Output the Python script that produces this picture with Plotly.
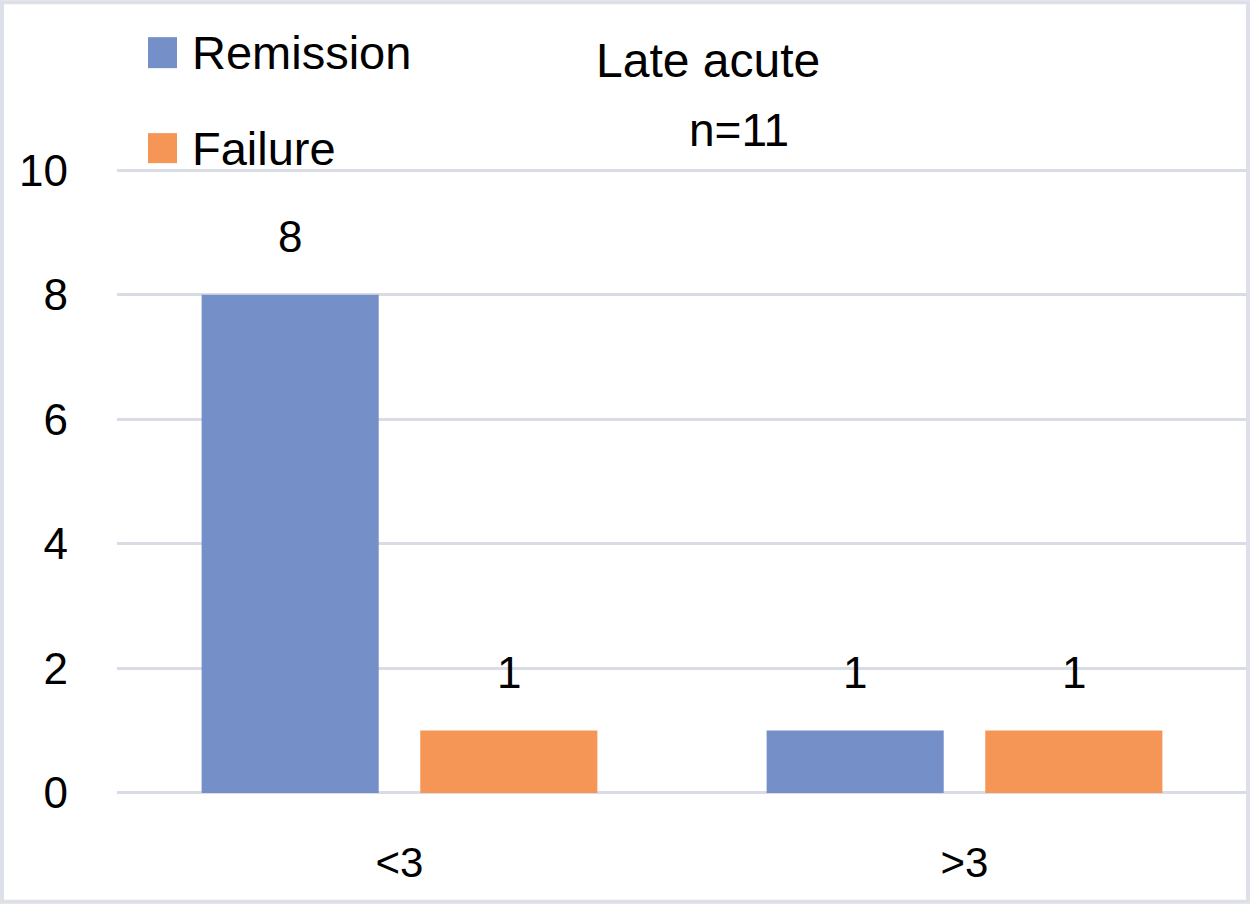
import plotly.graph_objects as go

# ---- data ----
categories = ["<3", ">3"]
series_names = ["Remission", "Failure"]
remission = [8, 1]
failure = [1, 1]
y_ticks = [0, 2, 4, 6, 8, 10]
title_text = "Late acute"
subtitle_text = "n=11"

colors = ["#7590c9", "#f59656"]
values = [remission, failure]

W, H = 1250, 904
Y_LO, Y_HI = -0.05, 10.05
PX_PER_UNIT = (793 - 170) / 10.0
L, R = 117, 1247
T = 170 - (Y_HI - 10) * PX_PER_UNIT
B = 793 - Y_LO * PX_PER_UNIT


def px_x(p):
    return (p - L) / (R - L)


def px_y(p):
    return (B - p) / (B - T)


FONT = "Liberation Sans, Arial, sans-serif"

fig = go.Figure()
for name, vals, col in zip(series_names, values, colors):
    fig.add_trace(go.Bar(
        x=categories, y=vals, name=name,
        marker=dict(color=col, line=dict(width=0)),
        showlegend=False,
    ))

bargap = 0.226
bargroupgap = 0.19
slot_px = (R - L) / len(categories) * (1 - bargap) / len(series_names)

# data labels above bars
for j, vals in enumerate(values):
    for i, v in enumerate(vals):
        fig.add_annotation(
            x=categories[i], y=v, xref="x", yref="y",
            text=str(v), showarrow=False,
            xshift=(j - (len(series_names) - 1) / 2) * slot_px,
            yshift=32, yanchor="bottom",
            font=dict(family=FONT, size=44, color="black"),
        )

# manual legend (large swatches)
legend_rows = [(37, 68), (133, 163)]
for (y0, y1), name, col in zip(legend_rows, series_names, colors):
    fig.add_shape(type="rect", xref="paper", yref="paper",
                  x0=px_x(148), x1=px_x(177), y0=px_y(y1), y1=px_y(y0),
                  fillcolor=col, line=dict(width=0))
    fig.add_annotation(x=px_x(190), y=px_y((y0 + y1) / 2), xref="paper", yref="paper",
                       text=name, showarrow=False, xanchor="left", yanchor="middle",
                       font=dict(family=FONT, size=47, color="black"))

# title lines
fig.add_annotation(x=px_x(708), y=px_y(60), xref="paper", yref="paper",
                   text=title_text, showarrow=False, xanchor="center", yanchor="middle",
                   font=dict(family=FONT, size=48, color="black"))
fig.add_annotation(x=px_x(739), y=px_y(130), xref="paper", yref="paper",
                   text=subtitle_text, showarrow=False, xanchor="center", yanchor="middle",
                   font=dict(family=FONT, size=46, color="black"))

# outer border
fig.add_shape(type="rect", xref="paper", yref="paper",
              x0=px_x(2), x1=px_x(1248), y0=px_y(902), y1=px_y(2),
              line=dict(color="#dde0e8", width=4), fillcolor="rgba(0,0,0,0)",
              layer="above")

fig.update_layout(
    width=W, height=H,
    margin=dict(l=L, r=W - R, t=T, b=H - B, pad=0),
    paper_bgcolor="white", plot_bgcolor="white",
    barmode="group", bargap=bargap, bargroupgap=bargroupgap,
    font=dict(family=FONT, color="black"),
    showlegend=False,
    xaxis=dict(
        showgrid=False, zeroline=False, showline=False,
        ticks="outside", ticklen=30, tickcolor="rgba(0,0,0,0)",
        tickfont=dict(family=FONT, size=42, color="black"),
    ),
    yaxis=dict(
        range=[Y_LO, Y_HI], tickvals=y_ticks,
        showgrid=True, gridcolor="#d9dce4", gridwidth=3,
        zeroline=False, showline=False,
        ticks="", ticklabelstandoff=48,
        tickfont=dict(family=FONT, size=44, color="black"),
    ),
)

fig.write_html("out.html", config={"displayModeBar": False},
               post_script="document.body.style.margin='0';")
